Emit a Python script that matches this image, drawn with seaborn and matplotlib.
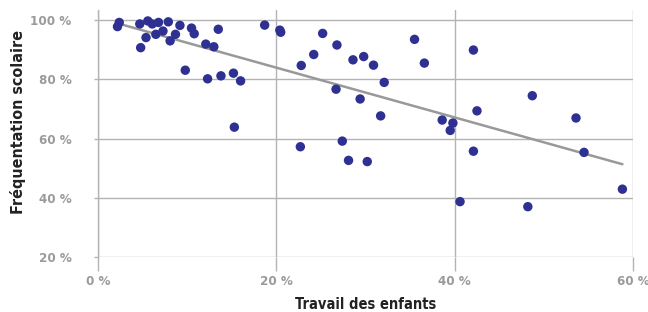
"""Nuage de points : travail des enfants vs fréquentation scolaire."""
import matplotlib

matplotlib.use("Agg")
import matplotlib.pyplot as plt
import numpy as np
import seaborn as sns
from matplotlib.ticker import FuncFormatter

# Travail des enfants (%)
travail = [
    2.2, 2.4, 4.7, 5.6, 6.1, 6.8, 7.9, 7.3, 6.5, 5.4, 4.8, 8.1, 8.7, 9.2, 10.5,
    10.8, 12.1, 13.0, 13.5, 9.8, 12.3, 13.8, 15.2, 16.0, 15.3, 18.7, 20.4, 20.5,
    25.2, 26.8, 24.2, 22.8, 28.6, 29.8, 30.9, 35.5, 36.6, 32.1, 26.7, 29.4, 31.7,
    38.6, 39.8, 39.5, 22.7, 27.4, 28.1, 30.2, 42.1, 42.5, 48.7, 53.6, 42.1, 54.5,
    58.8, 40.6, 48.2,
]
# Fréquentation scolaire (%)
frequentation = [
    97.8, 99.2, 98.7, 99.7, 98.7, 99.2, 99.4, 96.3, 95.2, 94.1, 90.7, 93.0, 95.2,
    98.2, 97.3, 95.4, 91.9, 91.0, 96.9, 83.1, 80.2, 81.2, 82.1, 79.5, 63.9, 98.3,
    96.6, 95.9, 95.5, 91.6, 88.4, 84.7, 86.6, 87.7, 84.8, 93.5, 85.5, 79.0, 76.7,
    73.4, 67.7, 66.3, 65.3, 62.8, 57.3, 59.2, 52.7, 52.3, 89.9, 69.4, 74.5, 67.0,
    55.8, 55.4, 43.0, 38.8, 37.1,
]
x_ticks = [0, 20, 40, 60]
y_ticks = [20, 40, 60, 80, 100]

sns.set_theme(style="white")
plt.rcParams["font.family"] = ["Liberation Sans Narrow", "DejaVu Sans Condensed", "DejaVu Sans"]
plt.rcParams["font.stretch"] = "condensed"

fig = plt.figure(figsize=(6.48, 3.12), dpi=100)
ax = fig.add_axes([0.151, 0.175, 0.826, 0.793])

grid_color = "#b3b3b3"
ax.set_axisbelow(True)
ax.grid(True, color=grid_color, linewidth=1.0)

sns.scatterplot(
    x=travail, y=frequentation, color="#2e3192", s=46, edgecolor="none", ax=ax, zorder=3
)

# droite de tendance linéaire
pente, origine = np.polyfit(travail, frequentation, 1)
xs = np.array([min(travail), max(travail)])
ax.plot(xs, pente * xs + origine, color="#999999", linewidth=1.8, zorder=2)

ax.set_xlim(0, 60)
ax.set_ylim(20, 103.4)
ax.set_xticks(x_ticks)
ax.set_yticks(y_ticks)
pct = FuncFormatter(lambda v, _: f"{v:.0f} %")
ax.xaxis.set_major_formatter(pct)
ax.yaxis.set_major_formatter(pct)

for side in ["top", "right", "bottom"]:
    ax.spines[side].set_visible(False)
ax.spines["left"].set_color(grid_color)
ax.spines["left"].set_linewidth(1.0)

ax.tick_params(axis="x", length=10, width=1.0, color=grid_color, pad=3,
               labelsize=9.5, labelcolor="#9a9a9a", direction="out", bottom=True)
ax.tick_params(axis="y", length=3, width=1.0, color=grid_color, pad=16,
               labelsize=9.5, labelcolor="#9a9a9a", left=True)
for lab in ax.get_xticklabels() + ax.get_yticklabels():
    lab.set_fontweight("bold")

ax.set_xlabel("Travail des enfants", fontsize=10.5, fontweight="bold", color="#222222", labelpad=6)
ax.set_ylabel("Fréquentation scolaire", fontsize=11.5, fontweight="bold", color="#222222")
ax.yaxis.set_label_coords(-0.134, 0.547)

fig.savefig("out.png", dpi=100)
